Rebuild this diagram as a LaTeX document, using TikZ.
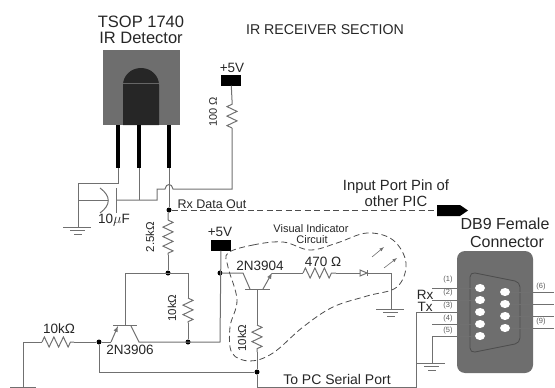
\documentclass[tikz,border=0pt]{standalone}
\usepackage{fontspec}
\setmainfont{Liberation Sans}
\usepackage{tikz}
\usetikzlibrary{arrows,decorations.pathmorphing,shapes.geometric}
\definecolor{wirecol}{HTML}{707070}
\definecolor{bodycol}{HTML}{6E6E6E}
\definecolor{domecol}{HTML}{262626}
\tikzset{
  wire/.style={draw=wirecol,line width=1pt},
  resistor/.style={wire,decorate,decoration={zigzag,segment length=9.5pt,amplitude=5pt}},
  jdot/.style={circle,fill=black,inner sep=0pt,minimum size=5pt},
  pin/.style={line width=4pt,black},
  supply/.style={fill=black,inner sep=0pt,minimum width=20pt,minimum height=11pt},
  hole/.style={ellipse,fill=white,inner sep=0pt,minimum width=10pt,minimum height=8pt},
  lbl/.style={inner sep=0pt,text=black!85,font=\fontsize{13.5}{15}\selectfont},
  smalllbl/.style={inner sep=0pt,text=black!85,align=center,font=\fontsize{11}{11}\selectfont},
  tinylbl/.style={inner sep=0pt,text=black!65,font=\fontsize{7.5}{8}\selectfont},
  titlelbl/.style={inner sep=0pt,text=black!85,font=\fontsize{16.5}{16}\selectfont},
  dashline/.style={draw=black!70,dash pattern=on 6pt off 3.5pt,line width=0.8pt},
}
\begin{document}
\begin{tikzpicture}[x=1pt,y=-1pt]
  \useasboundingbox (0,0) rectangle (555,388);
  % titles
  \draw (141,22) node[titlelbl] (tsop) {TSOP 1740};
  \draw (141,38) node[titlelbl] (irdet) {IR Detector};
  \draw (325,30) node[lbl,font=\fontsize{14.2}{15}\selectfont] (section) {IR RECEIVER SECTION};
  \draw (505,224) node[titlelbl,font=\fontsize{16}{16}\selectfont] (dbnine) {DB9 Female};
  \draw (507,242) node[titlelbl,font=\fontsize{16}{16}\selectfont] (dbconn) {Connector};

  % detector package
  \fill[bodycol] (103,50) rectangle (180,125);
  \fill[domecol] (123,125) -- (123,85) arc (180:360:18 and 17) -- (159,125) -- cycle;
  \draw[black!60,line width=0.5pt] (123,83) -- (159,83);
  \draw[pin] (118,125) -- (118,168);
  \draw[pin] (139,125) -- (139,168);
  \draw[pin] (169,125) -- (169,168);

  % junctions and corners
  \draw (118,168) coordinate (pina);
  \draw (139,168) coordinate (pinb);
  \draw (169,168) coordinate (pinc);
  \draw (118,183) coordinate (pinabot);
  \draw (78,183) coordinate (gndtop);
  \draw (78,200) coordinate (capleft);
  \draw (78,227) coordinate (gnda);
  \draw (108,200) coordinate (capc);
  \draw (116,200) coordinate (capd);
  \draw (139,200) coordinate (pinbbot);
  \draw (157,200) coordinate (hopa);
  \draw (157,189) coordinate (hopb);
  \draw (165,189) coordinate (hopc);
  \draw (173,189) coordinate (hopd);
  \draw (232,189) coordinate (rhundbot);
  \draw (232,128) coordinate (rhunda);
  \draw (232,100) coordinate (rhundb);
  \draw (169,210) node[jdot] (rxdot) {};
  \draw (168,220) coordinate (rtwoa);
  \draw (168,255) coordinate (rtwob);
  \draw (168,273) node[jdot] (midot) {};
  \draw (125,273) coordinate (pnpcol);
  \draw (125,325) coordinate (pnpbase);
  \draw (188,273) coordinate (rtena);
  \draw (188,298) coordinate (rtenb);
  \draw (188,323) coordinate (rtenc);
  \draw (188,342) node[jdot] (emdot) {};
  \draw (99,342) node[jdot] (badot) {};
  \draw (74,342) coordinate (rinb);
  \draw (42,342) coordinate (rina);
  \draw (23,342) coordinate (inl);
  \draw (23,387) coordinate (inbot);
  \draw (111,342) coordinate (pnpe);
  \draw (118,326) coordinate (pnpet);
  \draw (131,326) coordinate (pnpct);
  \draw (139,342) coordinate (pnpc);
  \draw (220,342) coordinate (fvcor);
  \draw (220,273) node[jdot] (fvdot) {};
  \draw (99,372) coordinate (balow);
  \draw (257,372) node[jdot] (txdot) {};
  \draw (243,273) coordinate (npnc);
  \draw (250,289) coordinate (npncb);
  \draw (263,289) coordinate (npneb);
  \draw (272,273) coordinate (npne);
  \draw (257,289) coordinate (npnb);
  \draw (257,325) coordinate (rbasea);
  \draw (257,352) coordinate (rbaseb);
  \draw (303,273) coordinate (rled);
  \draw (336,273) coordinate (rledb);
  \draw (360,273) coordinate (leda);
  \draw (368,273) coordinate (ledb);
  \draw (391,273) coordinate (ledc);
  \draw (391,309) coordinate (gndb);
  \draw (257,387) coordinate (txbot);
  \draw (416,387) coordinate (txcor);
  \draw (416,312) coordinate (txtop);
  \draw (432,336) coordinate (pfivel);
  \draw (432,363) coordinate (gndc);

  % supply blocks
  \draw (231,80) node[supply] (vcctop) {};
  \draw (221,245) node[supply] (vccmid) {};
  \draw (232,68) node[lbl] (vcctoplbl) {+5V};
  \draw (220,232) node[lbl] (vccmidlbl) {+5V};

  % detector wiring
  \draw[wire] (pina) -- (pinabot) -- (gndtop) -- (gnda);
  \draw[wire] (capleft) -- (capc);
  \draw[wire] (capd) -- (hopa) -- (hopb) -- (hopc) .. controls (166,183) and (172,183) .. (hopd) -- (rhundbot) -- (rhunda);
  \draw[wire] (pinb) -- (pinbbot);
  \draw[wire] (pinc) -- (rxdot);
  \draw[wire] (rxdot) -- (168,214) -- (rtwoa);
  \draw[resistor] (rhunda) -- (rhundb);
  \draw[wire] (rhundb) -- (vcctop);
  \draw[resistor] (rtwoa) -- (rtwob);
  \draw[wire] (rtwob) -- (midot);

  % capacitor
  \draw[wire] (100,188) .. controls (111,196) and (111,205) .. (100,213);
  \draw[wire] (116,188) -- (116,213);

  % pnp stage
  \draw[wire] (pnpcol) -- (rtena) -- (rtenb);
  \draw[wire] (pnpcol) -- (pnpbase);
  \draw[wire] (113,325) -- (137,325);
  \draw[resistor] (rtenb) -- (rtenc);
  \draw[wire] (rtenc) -- (emdot);
  \draw[wire,-latex] (pnpe) -- (pnpet);
  \draw[wire] (badot) -- (pnpe);
  \draw[wire] (pnpct) -- (pnpc) -- (fvcor) -- (vccmid);
  \draw[resistor] (rina) -- (rinb);
  \draw[wire] (rinb) -- (badot);
  \draw[wire] (rina) -- (inl) -- (inbot);
  \draw[wire] (10,387) -- (36,387);
  \draw[wire] (badot) -- (balow) -- (txdot);

  % npn stage
  \draw[wire] (fvdot) -- (npnc) -- (npncb);
  \draw[wire] (245,289) -- (270,289);
  \draw[wire,-latex] (npneb) -- (npne);
  \draw[wire] (npne) -- (rled);
  \draw[resistor] (rled) -- (rledb);
  \draw[wire] (rledb) -- (leda);
  \draw[wire] (ledb) -- (ledc) -- (gndb);
  \draw[wire,fill=white] (leda) ++(0,-3) -- ++(7,3) -- ++(-7,3) -- cycle;
  \draw[wire] (367,270) -- (367,276);
  \draw[wire] (npnb) -- (rbasea);
  \draw[resistor] (rbasea) -- (rbaseb);
  \draw[wire] (rbaseb) -- (txdot) -- (txbot) -- (txcor) -- (txtop) -- (475,312);
  \draw[wire,-latex,line width=0.6pt] (372,257) -- (384,247);
  \draw[wire,-latex,line width=0.6pt] (384,268) -- (397,258);

  % grounds
  \foreach \gx/\gy in {78/227,391/309,432/363}{
    \draw[wire] (\gx-15,\gy) -- (\gx+13,\gy);
    \draw[wire] (\gx-8,\gy+3.5) -- (\gx+7,\gy+3.5);
    \draw[wire] (\gx-4,\gy+7) -- (\gx+4,\gy+7);
  }

  % link to the other pic
  \draw[dashline] (rxdot) -- (437,210);
  \fill[black] (437,205) -- (460,205) -- (468,210.5) -- (460,216) -- (437,216) -- cycle;

  % indicator outline
  \draw[dashline] plot[smooth cycle,tension=0.6] coordinates {
    (228,253) (253,245) (283,242) (310,250) (337,243) (367,233) (393,240)
    (406,263) (397,287) (367,296) (333,307) (303,327) (273,353) (250,361)
    (232,353) (230,327) (237,300) (228,267)};

  % connector
  \fill[bodycol,rounded corners=8pt] (457,251) rectangle (533,373);
  \draw[black!70,line width=0.8pt,rounded corners=5pt] (470,272) -- (520,282) -- (520,343) -- (470,353) -- cycle;
  \draw (480,288) node[hole] (hone) {};
  \draw (480,300) node[hole] (htwo) {};
  \draw (480,312) node[hole] (hthree) {};
  \draw (480,324) node[hole] (hfour) {};
  \draw (480,336) node[hole] (hfive) {};
  \draw (505,292) node[hole] (hsix) {};
  \draw (505,304) node[hole] (hseven) {};
  \draw (505,316) node[hole] (height) {};
  \draw (505,328) node[hole] (hnine) {};
  \foreach \hname/\hy in {hone/288,htwo/300,hfour/324}{
    \draw[wire] (432,\hy) -- (\hname);
  }
  \draw[wire] (hfive) -- (pfivel) -- (gndc);
  \foreach \hname/\hy in {hsix/292,hseven/304,height/316,hnine/328}{
    \draw[wire] (\hname) -- (554,\hy);
  }
  \draw (448,280) node[tinylbl] (lone) {(1)};
  \draw (448,293) node[tinylbl] (ltwo) {(2)};
  \draw (448,306) node[tinylbl] (lthree) {(3)};
  \draw (448,319) node[tinylbl] (lfour) {(4)};
  \draw (448,331) node[tinylbl] (lfive) {(5)};
  \draw (541,287) node[tinylbl] (lsix) {(6)};
  \draw (541,322) node[tinylbl] (lnine) {(9)};
  \draw (425,295) node[lbl] (rxlbl) {Rx};
  \draw (425,307) node[lbl] (txlbl) {Tx};

  % labels
  \draw (213,112) node[lbl,rotate=90,font=\fontsize{11}{12}\selectfont] (rhundlbl) {100 Ω};
  \draw (114,220) node[lbl] (caplbl) {10$\mu$F};
  \draw (212,204) node[lbl,font=\fontsize{12.5}{12}\selectfont] (rxout) {Rx Data Out};
  \draw (396,187) node[lbl,font=\fontsize{14.8}{15}\selectfont] (inporta) {Input Port Pin of};
  \draw (396,201) node[lbl,font=\fontsize{14.8}{15}\selectfont] (inportb) {other PIC};
  \draw (150,237) node[lbl,rotate=90,font=\fontsize{11.5}{12}\selectfont] (rtwolbl) {2.5kΩ};
  \draw (172,308) node[lbl,rotate=90,font=\fontsize{11.5}{12}\selectfont] (rtenlbl) {10kΩ};
  \draw (59,329) node[lbl] (rinlbl) {10kΩ};
  \draw (130,350) node[lbl] (pnplbl) {2N3906};
  \draw (260,266) node[lbl] (npnlbl) {2N3904};
  \draw (323,262) node[lbl] (rledlbl) {470 Ω};
  \draw (242,338) node[lbl,rotate=90,font=\fontsize{11.5}{12}\selectfont] (rbaselbl) {10kΩ};
  \draw (311,229) node[smalllbl] (visa) {Visual Indicator};
  \draw (312,239.5) node[smalllbl] (visb) {Circuit};
  \draw (337,379) node[lbl,font=\fontsize{14}{15}\selectfont] (pclbl) {To PC Serial Port};
\end{tikzpicture}
\end{document}
